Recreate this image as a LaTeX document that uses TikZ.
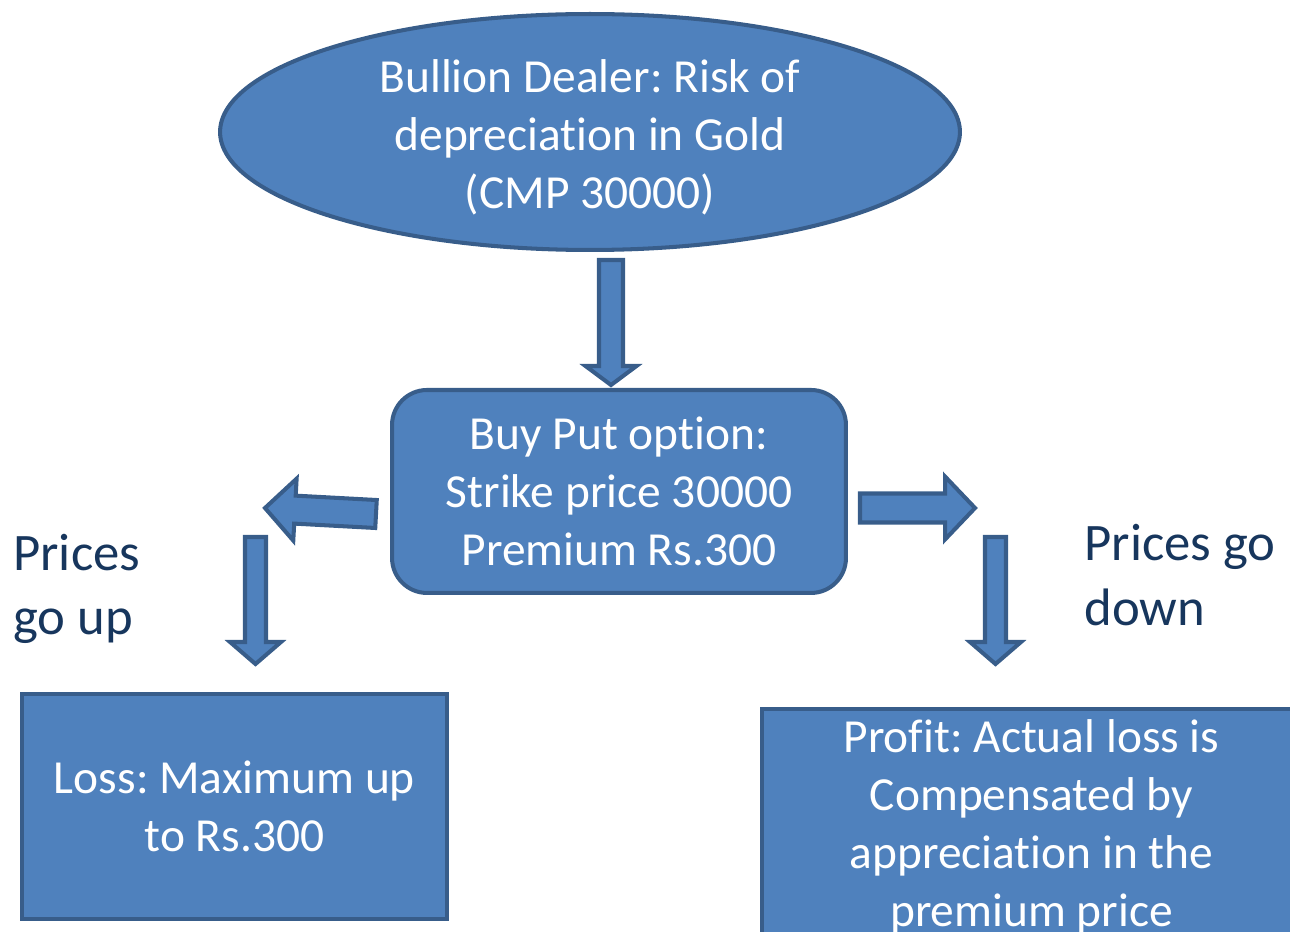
\documentclass[tikz,border=0pt]{standalone}
\usepackage{fontspec}
\setmainfont{Carlito}[Ligatures=NoCommon]
\frenchspacing
\usetikzlibrary{shapes,calc,positioning}
\definecolor{boxfill}{RGB}{79,129,189}
\definecolor{boxline}{RGB}{56,93,138}
\definecolor{navytext}{RGB}{23,54,93}
\tikzstyle{dealer}=[ellipse,draw=boxline,fill=boxfill,line width=2.3pt,inner sep=0pt,minimum width=14.8cm,minimum height=4.72cm,align=center,text=white,font=\fontsize{27}{33}\selectfont]
\tikzstyle{opt}=[rectangle,draw=boxline,fill=boxfill,line width=2.3pt,rounded corners=0.7cm,inner sep=0pt,minimum width=9.08cm,minimum height=4.06cm,align=center,text=white,font=\fontsize{27}{33}\selectfont]
\tikzstyle{outcome}=[rectangle,draw=boxline,fill=boxfill,line width=2.3pt,inner sep=0pt,align=center,text=white,font=\fontsize{27}{33}\selectfont]
\tikzstyle{lbl}=[align=left,text=navytext,inner sep=0pt,font=\fontsize{30}{36.5}\selectfont]
\tikzstyle{barrow}=[draw=boxline,fill=boxfill,line width=2.3pt,line join=miter]

% block arrow: tail, tip, shaft half width, head half width, head length
\newcommand{\blockarrow}[5]{%
  \path ($(#2)!#5!(#1)$) coordinate (hb);
  \draw[barrow] ($(#1)!#3!90:(#2)$) -- ($(hb)!#3!90:(#2)$) -- ($(hb)!#4!90:(#2)$)
    -- (#2) -- ($(hb)!#4!-90:(#2)$) -- ($(hb)!#3!-90:(#2)$) -- ($(#1)!#3!-90:(#2)$) -- cycle;}

\begin{document}
\begin{tikzpicture}[x=0.02cm,y=-0.02cm]
\useasboundingbox (0,0) rectangle (1290,932);
\clip (0,0) rectangle (1290,932);

\node[dealer] (dealer) at (590,132) {\rule{0pt}{25pt}Bullion Dealer: Risk of\\depreciation in Gold\\(CMP 30000)};
\node[opt, below=2.72cm of dealer, xshift=0.58cm] (put) {Buy Put option:\\Strike price 30000\\Premium Rs.300};
\node[outcome, minimum width=8.5cm, minimum height=4.5cm] (loss) at (234.5,806.5) {Loss: Maximum up\\to Rs.300};
\node[outcome, minimum width=10.78cm, minimum height=4.56cm] (profit) at (1031.5,823) {\rule{0pt}{23pt}Profit: Actual loss is\\Compensated by\\appreciation in the\\premium price};

\node[lbl, anchor=west] (up) at (13,589) {Prices\\go up};
\node[lbl, anchor=west] (down) at (1084,575) {Prices go\\down};

% arrow ends
\coordinate (d1) at (611,260);
\coordinate (d2) at (611,385);
\coordinate (l1) at (376,514);
\coordinate (l2) at (265,508);
\coordinate (ld1) at (255.5,537);
\coordinate (ld2) at (255.5,664);
\coordinate (r1) at (860,508);
\coordinate (r2) at (975,508);
\coordinate (rd1) at (995.5,537);
\coordinate (rd2) at (995.5,664);

\blockarrow{d1}{d2}{0.24cm}{0.51cm}{0.38cm}
\blockarrow{l1}{l2}{0.28cm}{0.62cm}{0.6cm}
\blockarrow{ld1}{ld2}{0.21cm}{0.51cm}{0.44cm}
\blockarrow{r1}{r2}{0.29cm}{0.63cm}{0.6cm}
\blockarrow{rd1}{rd2}{0.21cm}{0.51cm}{0.44cm}
\end{tikzpicture}
\end{document}
